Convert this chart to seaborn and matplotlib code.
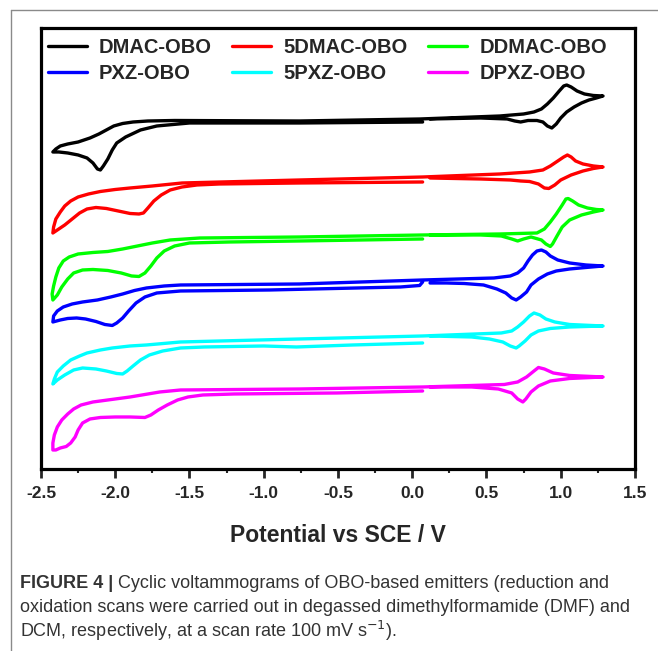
import numpy as np
import pandas as pd
import seaborn as sns
import matplotlib.pyplot as plt
from matplotlib.lines import Line2D

# potential (V vs SCE) and current (arb. units, offset per trace), in scan order:
# 0.07 V -> -2.42 V -> back, then on to 1.285 V and back
dmac_v = [0.07, -0.76, -1.50, -1.72, -1.83, -1.93, -1.99, -2.02, -2.05, -2.08, -2.10, -2.12,
          -2.15, -2.19, -2.25, -2.32, -2.38, -2.42,
          -2.40, -2.37, -2.32, -2.25, -2.17, -2.11, -2.06, -2.01, -1.95, -1.88, -1.78, -1.60,
          -0.76, 0.05, 0.59, 0.75, 0.82, 0.87, 0.91, 0.95, 0.99, 1.02, 1.04, 1.07, 1.11,
          1.16, 1.22, 1.285,
          1.24, 1.19, 1.14, 1.09, 1.04, 1.00, 0.97, 0.94, 0.91, 0.88, 0.84, 0.78, 0.73,
          0.69, 0.64, 0.46, 0.12]
dmac_i = [34.7, 34.6, 34.6, 34.3, 33.9, 33.2, 32.6, 31.9, 31.0, 30.3, 29.9, 30.0,
          30.6, 31.1, 31.4, 31.6, 31.7, 31.7,
          32.0, 32.3, 32.5, 32.7, 33.1, 33.5, 33.9, 34.3, 34.55, 34.7, 34.8, 34.85,
          34.8, 35.0, 35.3, 35.5, 35.7, 36.0, 36.5, 37.1, 37.8, 38.3, 38.4, 38.2, 37.8,
          37.5, 37.35, 37.3,
          37.1, 36.9, 36.6, 36.2, 35.7, 35.1, 34.5, 34.1, 34.3, 34.7, 34.85, 34.85, 34.7,
          34.8, 35.0, 35.1, 35.0]

dmac5_v = [0.07, -0.76, -1.30, -1.45, -1.55, -1.63, -1.69, -1.74, -1.78, -1.81, -1.84, -1.90,
           -1.98, -2.06, -2.13, -2.19, -2.24, -2.29, -2.34, -2.38, -2.42,
           -2.415, -2.40, -2.37, -2.34, -2.30, -2.25, -2.18, -2.10, -2.00, -1.90, -1.75, -1.55,
           -0.76, 0.07, 0.59, 0.79, 0.88, 0.93, 0.98, 1.02, 1.045, 1.07, 1.10, 1.15, 1.22, 1.285,
           1.22, 1.15, 1.07, 1.00, 0.96, 0.92, 0.89, 0.85, 0.79, 0.73, 0.66, 0.46, 0.12]
dmac5_i = [28.7, 28.6, 28.5, 28.4, 28.2, 27.9, 27.4, 26.8, 26.1, 25.6, 25.5, 25.55,
           25.8, 26.05, 26.15, 26.0, 25.6, 25.0, 24.4, 24.0, 23.6,
           24.2, 25.0, 25.7, 26.3, 26.8, 27.2, 27.5, 27.75, 27.95, 28.1, 28.3, 28.6,
           28.9, 29.2, 29.5, 29.7, 29.9, 30.3, 30.8, 31.2, 31.4, 31.2, 30.8, 30.5, 30.3, 30.2,
           30.05, 29.8, 29.4, 28.9, 28.4, 28.05, 28.1, 28.5, 28.75, 28.8, 28.9, 29.0, 29.1]

ddmac_v = [0.07, -0.76, -1.23, -1.50, -1.60, -1.67, -1.72, -1.76, -1.80, -1.84, -1.89, -1.96,
           -2.05, -2.15, -2.22, -2.28, -2.32, -2.36, -2.39, -2.42,
           -2.425, -2.415, -2.40, -2.38, -2.35, -2.31, -2.25, -2.15, -2.05, -1.95, -1.85, -1.75,
           -1.63, -1.43, -0.76, 0.07, 0.59, 0.84, 0.89, 0.93, 0.97, 1.01, 1.035, 1.05, 1.08,
           1.12, 1.18, 1.24, 1.285,
           1.22, 1.14, 1.06, 1.01, 0.975, 0.945, 0.93, 0.90, 0.87, 0.80, 0.75, 0.71, 0.67,
           0.60, 0.46, 0.12]
ddmac_i = [23.0, 22.8, 22.7, 22.6, 22.3, 21.8, 21.1, 20.3, 19.6, 19.25, 19.3, 19.6,
           19.85, 19.95, 19.9, 19.6, 19.0, 18.2, 17.4, 16.9,
           17.5, 18.3, 19.2, 20.1, 20.8, 21.2, 21.5, 21.65, 21.75, 22.0, 22.3, 22.6,
           22.9, 23.1, 23.2, 23.4, 23.5, 23.6, 24.0, 24.7, 25.5, 26.4, 27.0, 27.05, 26.8,
           26.4, 26.1, 25.95, 25.9,
           25.7, 25.4, 24.9, 24.2, 23.3, 22.5, 22.25, 22.5, 22.9, 23.2, 23.0, 22.8, 23.0,
           23.3, 23.4, 23.4]

pxz_v = [0.07, 0.05, -0.08, -0.96, -1.56, -1.72, -1.80, -1.86, -1.91, -1.95, -1.99, -2.02,
         -2.07, -2.13, -2.20, -2.26, -2.32, -2.37, -2.42,
         -2.415, -2.39, -2.35, -2.29, -2.22, -2.12, -2.03, -1.95, -1.87, -1.79, -1.67, -1.56,
         -0.76, 0.07, 0.55, 0.66, 0.71, 0.75, 0.78, 0.81, 0.84, 0.87, 0.90, 0.93, 0.98,
         1.06, 1.17, 1.285,
         1.17, 1.06, 0.97, 0.91, 0.85, 0.80, 0.77, 0.73, 0.70, 0.67, 0.63, 0.57, 0.48,
         0.35, 0.23, 0.12]
pxz_i = [18.7, 18.35, 18.2, 17.9, 17.8, 17.6, 17.2, 16.6, 15.8, 15.1, 14.6, 14.35,
         14.45, 14.75, 15.0, 15.1, 15.05, 14.9, 14.7,
         15.3, 15.8, 16.2, 16.5, 16.7, 16.9, 17.2, 17.5, 17.85, 18.1, 18.3, 18.4,
         18.5, 18.9, 19.1, 19.3, 19.6, 20.1, 20.8, 21.4, 21.8, 21.9, 21.7, 21.3, 20.9,
         20.6, 20.4, 20.3,
         20.15, 20.0, 19.8, 19.5, 19.0, 18.4, 17.7, 17.2, 16.9, 17.1, 17.6, 18.0, 18.4,
         18.55, 18.6, 18.6]

pxz5_v = [0.07, -0.40, -0.78, -1.00, -1.40, -1.56, -1.68, -1.77, -1.83, -1.88, -1.92, -1.95,
          -1.99, -2.06, -2.13, -2.22, -2.28, -2.34, -2.39, -2.42,
          -2.41, -2.39, -2.35, -2.30, -2.24, -2.19, -2.10, -2.02, -1.90, -1.79, -1.56,
          -0.76, 0.07, 0.60, 0.67, 0.71, 0.75, 0.79, 0.82, 0.86, 0.90, 0.96, 1.06, 1.285,
          1.06, 0.93, 0.85, 0.80, 0.76, 0.72, 0.70, 0.66, 0.61, 0.52, 0.40, 0.12]
pxz5_i = [12.6, 12.4, 12.2, 12.3, 12.2, 12.1, 11.8, 11.4, 10.9, 10.3, 9.8, 9.5,
          9.55, 9.8, 10.0, 10.1, 9.9, 9.4, 8.9, 8.5,
          9.0, 9.7, 10.3, 10.9, 11.3, 11.6, 11.9, 12.1, 12.3, 12.4, 12.7,
          13.0, 13.3, 13.6, 13.8, 14.2, 14.7, 15.3, 15.6, 15.4, 15.0, 14.7, 14.45, 14.3,
          14.2, 14.05, 13.8, 13.4, 12.8, 12.3, 12.1, 12.3, 12.7, 13.0, 13.2, 13.3]

dpxz_v = [0.07, -0.51, -1.20, -1.41, -1.51, -1.58, -1.65, -1.71, -1.76, -1.80, -1.90, -2.00,
          -2.10, -2.17, -2.22, -2.25, -2.27, -2.30, -2.33, -2.37, -2.40, -2.42,
          -2.42, -2.41, -2.39, -2.36, -2.32, -2.28, -2.23, -2.15, -2.05, -1.90, -1.78, -1.70,
          -1.56, -0.76, 0.07, 0.62, 0.71, 0.77, 0.82, 0.85, 0.89, 0.95, 1.06, 1.285,
          1.06, 0.93, 0.85, 0.80, 0.765, 0.745, 0.71, 0.67, 0.58, 0.40, 0.12]
dpxz_i = [7.8, 7.6, 7.5, 7.4, 7.2, 6.9, 6.4, 5.9, 5.4, 5.15, 5.2, 5.2,
          5.15, 5.0, 4.6, 3.9, 3.2, 2.6, 2.25, 2.1, 1.9, 1.9,
          2.6, 3.4, 4.2, 4.9, 5.5, 6.0, 6.4, 6.7, 6.9, 7.2, 7.5, 7.7,
          7.9, 8.0, 8.2, 8.45, 8.7, 9.2, 9.8, 10.15, 10.0, 9.6, 9.35, 9.2,
          9.05, 8.8, 8.3, 7.7, 7.0, 6.7, 7.0, 7.6, 8.0, 8.2, 8.2]

compounds = ["DMAC-OBO", "5DMAC-OBO", "DDMAC-OBO", "PXZ-OBO", "5PXZ-OBO", "DPXZ-OBO"]
colors = ["#000000", "#ff0000", "#00ff00", "#0000ff", "#00ffff", "#ff00ff"]
x_ticks = [-2.5, -2.0, -1.5, -1.0, -0.5, 0.0, 0.5, 1.0, 1.5]

caption_bold = "FIGURE 4 |"
caption_lines = [" Cyclic voltammograms of OBO-based emitters (reduction and",
                 "oxidation scans were carried out in degassed dimethylformamide (DMF) and",
                 "DCM, respectively, at a scan rate 100 mV s$^{-1}$)."]


def build_frame() -> pd.DataFrame:
    traces = [(dmac_v, dmac_i), (dmac5_v, dmac5_i), (ddmac_v, ddmac_i),
              (pxz_v, pxz_i), (pxz5_v, pxz5_i), (dpxz_v, dpxz_i)]
    parts = []
    for name, (v, i) in zip(compounds, traces):
        parts.append(pd.DataFrame({"potential": v, "current": i, "compound": name}))
    return pd.concat(parts, ignore_index=True)


sns.set_style("ticks")
plt.rcParams["font.family"] = ["Liberation Sans", "DejaVu Sans"]

df = build_frame()
fig = plt.figure(figsize=(6.58, 6.51), dpi=100)
ax = fig.add_axes([0.0623, 0.2796, 0.9027, 0.6774])

sns.lineplot(data=df, x="potential", y="current", hue="compound", hue_order=compounds,
             palette=colors, sort=False, estimator=None, linewidth=2.4, ax=ax)
for ln in ax.get_lines():
    ln.set_solid_joinstyle("round")
    ln.set_solid_capstyle("round")

ax.set_xlim(-2.5, 1.5)
ax.set_ylim(0, 44.1)
ax.set_xticks(x_ticks)
ax.set_xticklabels([f"{t:.1f}" for t in x_ticks], fontsize=12.5, fontweight="bold")
ax.set_xticks(np.arange(-2.25, 1.5, 0.5), minor=True)
ax.set_yticks([])
ax.tick_params(axis="x", which="major", length=6.5, width=2, direction="out", pad=6)
ax.tick_params(axis="x", which="minor", length=3, width=1.5, direction="out")
for s in ax.spines.values():
    s.set_linewidth(2.3)
    s.set_color("black")
ax.set_xlabel("Potential vs SCE / V", fontsize=16.5, fontweight="bold", labelpad=16)
ax.set_ylabel("")

handles, labels = ax.get_legend_handles_labels()
order = [0, 3, 1, 4, 2, 5]
leg = ax.legend([handles[k] for k in order], [labels[k] for k in order], ncol=3,
                loc="upper left", bbox_to_anchor=(-0.005, 1.0), frameon=False,
                prop={"weight": "bold", "size": 14.5}, handlelength=1.95, handletextpad=0.6,
                columnspacing=1.0, labelspacing=0.36, borderpad=0.38, borderaxespad=0.1)
for h in leg.get_lines():
    h.set_linewidth(2.4)

# outer frame of the figure panel
fig.add_artist(Line2D([11 / 658, 1.0], [1 - 10 / 651, 1 - 10 / 651], transform=fig.transFigure,
                      color="#8a8a8a", linewidth=1.0))
fig.add_artist(Line2D([11 / 658, 11 / 658], [0.0, 1 - 10 / 651], transform=fig.transFigure,
                      color="#8a8a8a", linewidth=1.0))

# caption
cap_size = 13
renderer = fig.canvas.get_renderer()
t = fig.text(20 / 658, 1 - 583 / 651, caption_bold, fontsize=cap_size, fontweight="bold",
             color="#333333", va="center", ha="left")
bb = t.get_window_extent(renderer=renderer)
fig.text(bb.x1 / fig.bbox.width, 1 - 583 / 651, caption_lines[0], fontsize=cap_size,
         color="#333333", va="center", ha="left")
fig.text(20 / 658, 1 - 607 / 651, caption_lines[1], fontsize=cap_size, color="#333333",
         va="center", ha="left")
fig.text(20 / 658, 1 - 631 / 651, caption_lines[2], fontsize=cap_size, color="#333333",
         va="center", ha="left")

fig.savefig("out.png", dpi=100)
